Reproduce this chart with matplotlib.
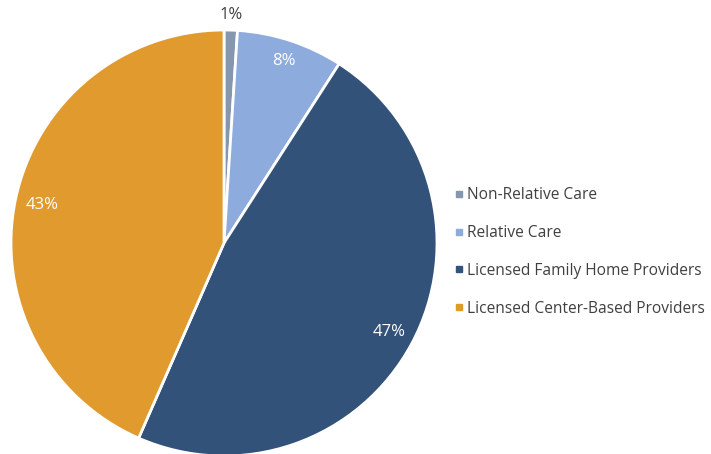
import numpy as np
import matplotlib
matplotlib.use("Agg")
import matplotlib.pyplot as plt
from matplotlib.lines import Line2D

plt.rcParams['font.family'] = ['Open Sans', 'DejaVu Sans']

categories = ["Non-Relative Care", "Relative Care",
              "Licensed Family Home Providers", "Licensed Center-Based Providers"]
shares = [1, 8, 47, 43]
labels = ["1%", "8%", "47%", "43%"]
colors = ["#8597AF", "#8EABDD", "#335279", "#E09A2E"]

W, H = 711, 454
fig = plt.figure(figsize=(W / 100, H / 100), dpi=100)
# square axes for the pie (pixel geometry converted to figure fractions)
cx, cy, r = 224, 243, 213
ax = fig.add_axes([(cx - r) / W, (H - cy - r) / H, 2 * r / W, 2 * r / H])

wedges, _ = ax.pie(shares, colors=colors, startangle=90, counterclock=False,
                   radius=1.0, wedgeprops=dict(edgecolor="white", linewidth=2))
ax.set_xlim(-1, 1)
ax.set_ylim(-1, 1)
ax.set_aspect("equal")
ax.axis("off")

# percentage labels, placed on each wedge's bisector
dist = [1.07, 0.90, 0.88, 0.87]
txt_col = ["#404040", "white", "white", "white"]
for w, lab, d, c in zip(wedges, labels, dist, txt_col):
    ang = np.deg2rad((w.theta1 + w.theta2) / 2)
    ax.text(d * np.cos(ang), d * np.sin(ang), lab, ha="center", va="center",
            fontsize=12, color=c, clip_on=False)

handles = [Line2D([0], [0], marker="s", linestyle="none", markersize=5,
                  markerfacecolor=c, markeredgecolor=c) for c in colors]
fig.legend(handles, categories, loc="upper left",
           bbox_to_anchor=(449 / W, 1 - 181 / H), frameon=False,
           fontsize=11.2, labelcolor="#404040", labelspacing=1.40,
           handlelength=0.5, handletextpad=0.25, borderaxespad=0)

fig.savefig("out.png", dpi=100)
